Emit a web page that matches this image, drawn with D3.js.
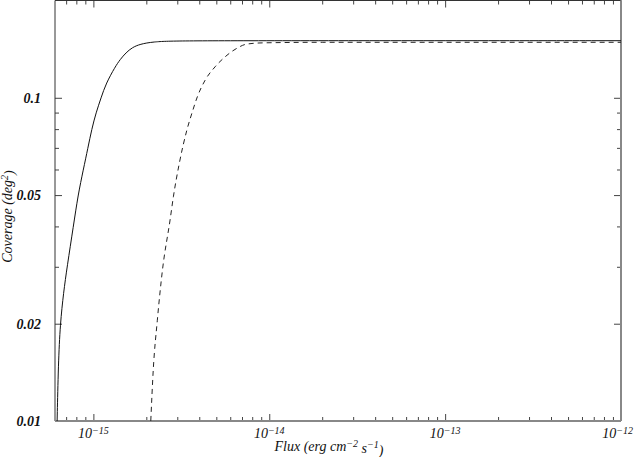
<!DOCTYPE html>
<meta charset="utf-8">
<style>
body { margin: 0; background: #fff; }
svg { display: block; }
.tick line { stroke: #444; }
.domain { display: none; }
.lbl { font-family: "Liberation Serif", "Times New Roman", serif; font-style: italic; fill: #111; }
</style>
<body>
<script src="https://d3js.org/d3.v7.min.js"></script>
<script>

// curve readings (flux in erg cm^-2 s^-1, coverage in deg^2)
var solidFlux = [6.22e-16, 6.32e-16, 6.48e-16, 6.77e-16, 7.09e-16, 7.70e-16, 8.18e-16, 8.77e-16, 9.31e-16, 9.79e-16,
                 1.036e-15, 1.106e-15, 1.18e-15, 1.33e-15, 1.418e-15, 1.535e-15, 1.66e-15,
                 1.843e-15, 2.184e-15, 2.838e-15, 1e-14, 1e-13, 1e-12];
var solidCov  = [0.0100, 0.0150, 0.0200, 0.0250, 0.0300, 0.0401, 0.0500, 0.0600, 0.0700, 0.0800,
                 0.0900, 0.1000, 0.1108, 0.1247, 0.1313, 0.1380, 0.1430,
                 0.1466, 0.1490, 0.1501, 0.1502, 0.1502, 0.1502];

var dashedFlux = [2.12e-15, 2.19e-15, 2.31e-15, 2.47e-15, 2.73e-15, 2.85e-15, 3.08e-15, 3.40e-15,
                  3.63e-15, 3.90e-15, 4.32e-15, 4.92e-15, 5.61e-15, 6.53e-15, 7.45e-15,
                  9.23e-15, 2e-14, 1e-13, 1e-12];
var dashedCov  = [0.0100, 0.0144, 0.0205, 0.0293, 0.0419, 0.0494, 0.0627, 0.0794,
                  0.0895, 0.1007, 0.1134, 0.1247, 0.1339, 0.1422, 0.1466,
                  0.1479, 0.1485, 0.1485, 0.1485];

var xDomain = [6.05e-16, 1e-12];
var yDomain = [0.01, 0.2];

var xMajor = [1e-15, 1e-14, 1e-13, 1e-12];
var xExp   = ["\u221215", "\u221214", "\u221213", "\u221212"];
var yMajor = [0.01, 0.02, 0.05, 0.1];
var yLabels = ["0.01", "0.02", "0.05", "0.1"];

var margin = {top: 0.5, right: 13, bottom: 36, left: 55},
    W = 634, H = 457,
    width = W - margin.left - margin.right,
    height = H - margin.top - margin.bottom;

var x = d3.scaleLog().domain(xDomain).range([0, width]);
var y = d3.scaleLog().domain(yDomain).range([height, 0]);

var svg = d3.select("body").append("svg")
    .attr("width", W)
    .attr("height", H)
  .append("g")
    .attr("transform", "translate(" + margin.left + "," + margin.top + ")");

// minor ticks from the scale, majors from the arrays
var xMinor = x.ticks().filter(function(d) { return xMajor.indexOf(d) < 0; });
var yMinor = y.ticks().filter(function(d) { return yMajor.indexOf(d) < 0 && d < 0.2; });

function tickGroup(axis, tr) {
  var g = svg.append("g").call(axis);
  if (tr) g.attr("transform", tr);
  g.selectAll("text").remove();
  return g;
}

// bottom / top
tickGroup(d3.axisBottom(x).tickValues(xMinor).tickSize(-4), "translate(0," + height + ")");
tickGroup(d3.axisBottom(x).tickValues(xMajor).tickSize(-7), "translate(0," + height + ")");
tickGroup(d3.axisTop(x).tickValues(xMinor).tickSize(-4));
tickGroup(d3.axisTop(x).tickValues(xMajor).tickSize(-7));
// left / right
tickGroup(d3.axisLeft(y).tickValues(yMinor).tickSize(-4));
tickGroup(d3.axisLeft(y).tickValues(yMajor).tickSize(-7));
tickGroup(d3.axisRight(y).tickValues(yMinor).tickSize(-4), "translate(" + width + ",0)");
tickGroup(d3.axisRight(y).tickValues(yMajor).tickSize(-7), "translate(" + width + ",0)");

// frame
svg.append("line").attr("x1", 0).attr("x2", width).attr("y1", 0).attr("y2", 0)
  .attr("stroke", "#333").attr("stroke-width", 1);
svg.append("line").attr("x1", 0).attr("x2", 0).attr("y1", 0).attr("y2", height)
  .attr("stroke", "#333").attr("stroke-width", 1);
svg.append("line").attr("x1", 0).attr("x2", width).attr("y1", height).attr("y2", height)
  .attr("stroke", "#888").attr("stroke-width", 2);
svg.append("line").attr("x1", width).attr("x2", width).attr("y1", 0).attr("y2", height)
  .attr("stroke", "#888").attr("stroke-width", 2);

// curves
var smooth = d3.line().curve(d3.curveBasis)
  .x(function(d) { return x(d[0]); })
  .y(function(d) { return y(d[1]); });
var line = d3.line().curve(d3.curveMonotoneX)
  .x(function(d) { return x(d[0]); })
  .y(function(d) { return y(d[1]); });

svg.append("path")
  .datum(d3.zip(solidFlux, solidCov))
  .attr("d", smooth)
  .attr("fill", "none").attr("stroke", "#111").attr("stroke-width", 1);

svg.append("path")
  .datum(d3.zip(dashedFlux, dashedCov))
  .attr("d", line)
  .attr("fill", "none").attr("stroke", "#222").attr("stroke-width", 1)
  .attr("stroke-dasharray", "5,4");

// y tick labels
svg.selectAll("text.ylab")
    .data(yMajor)
  .enter().append("text")
    .attr("class", "lbl ylab")
    .attr("x", -14)
    .attr("y", function(d) { return y(d); })
    .attr("dy", "0.35em")
    .attr("text-anchor", "end")
    .style("font-size", "14px")
    .style("font-weight", "bold")
    .text(function(d, i) { return yLabels[i]; });

// x tick labels with superscripts
var xl = svg.selectAll("text.xlab")
    .data(xMajor)
  .enter().append("text")
    .attr("class", "lbl xlab")
    .attr("x", function(d) { return x(d); })
    .attr("y", height + 17)
    .attr("text-anchor", "middle")
    .style("font-size", "14px");
xl.append("tspan").text("10");
xl.append("tspan").attr("dy", "-0.45em").style("font-size", "10px")
  .text(function(d, i) { return xExp[i]; });
// keep the last label inside the window
xl.each(function() {
  var bb = this.getBBox();
  var over = bb.x + bb.width - (width + margin.right - 1);
  if (over > 0) d3.select(this).attr("x", +d3.select(this).attr("x") - over);
});

// axis titles
var xt = svg.append("text")
    .attr("class", "lbl")
    .attr("x", 329 - margin.left)
    .attr("y", H - margin.top - 6)
    .attr("text-anchor", "middle")
    .style("font-size", "14px");
xt.append("tspan").text("Flux (erg cm");
xt.append("tspan").attr("dy", "-0.45em").style("font-size", "10px").text("\u22122");
xt.append("tspan").attr("dy", "0.45em").text(" s");
xt.append("tspan").attr("dy", "-0.45em").style("font-size", "10px").text("\u22121");
xt.append("tspan").attr("dy", "0.45em").text(")");

var yt = svg.append("text")
    .attr("class", "lbl")
    .attr("transform", "translate(" + (12 - margin.left) + "," + 216 + ") rotate(-90)")
    .attr("text-anchor", "middle")
    .style("font-size", "14px");
yt.append("tspan").text("Coverage (deg");
yt.append("tspan").attr("dy", "-0.45em").style("font-size", "10px").text("2");
yt.append("tspan").attr("dy", "0.45em").text(")");

</script>
</body>
